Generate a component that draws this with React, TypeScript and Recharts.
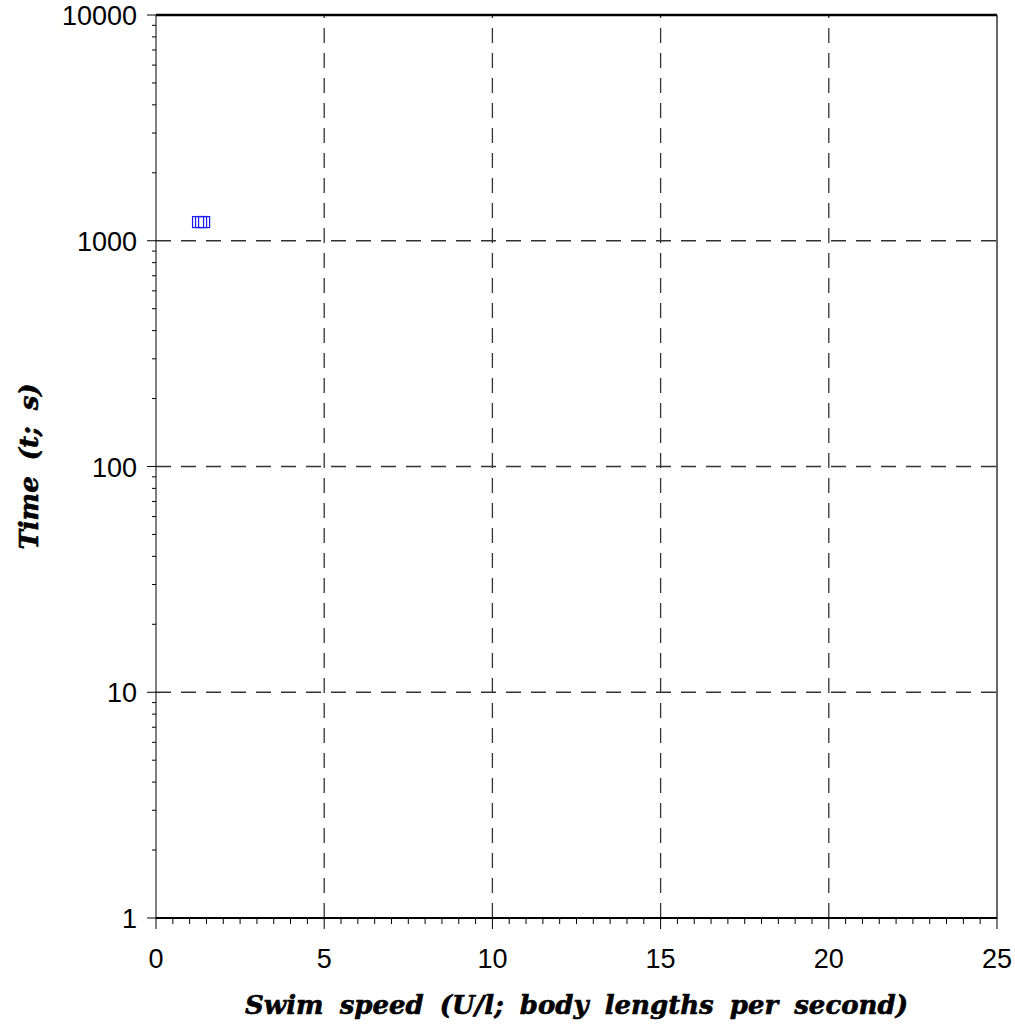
import { ScatterChart, Scatter, XAxis, YAxis, ReferenceLine } from 'recharts'

// blue open squares, overlapping near U/l ~ 1.3
const speeds = [1.25, 1.34, 1.43]
const times = [1210, 1210, 1210]

const xTicks = [
  0, 0.5, 1, 1.5, 2, 2.5, 3, 3.5, 4, 4.5, 5, 5.5, 6, 6.5, 7, 7.5, 8, 8.5, 9, 9.5,
  10, 10.5, 11, 11.5, 12, 12.5, 13, 13.5, 14, 14.5, 15, 15.5, 16, 16.5, 17, 17.5,
  18, 18.5, 19, 19.5, 20, 20.5, 21, 21.5, 22, 22.5, 23, 23.5, 24, 24.5, 25,
]
const xLabels = [0, 5, 10, 15, 20, 25]
const yTicks = [
  1, 2, 3, 4, 5, 6, 7, 8, 9,
  10, 20, 30, 40, 50, 60, 70, 80, 90,
  100, 200, 300, 400, 500, 600, 700, 800, 900,
  1000, 2000, 3000, 4000, 5000, 6000, 7000, 8000, 9000,
  10000,
]
const yLabels = [1, 10, 100, 1000, 10000]
const xGrid = [5, 10, 15, 20]
const yGrid = [10, 100, 1000]

const data = speeds.map((s, i) => ({ speed: s, time: times[i] }))

const tickFont = '"Liberation Sans", Arial, sans-serif'
const titleFont = '"DejaVu Serif", "Liberation Serif", serif'
const gridProps = { stroke: '#333', strokeWidth: 1.3, strokeDasharray: '15 10' }
const titleProps = {
  fontSize: 26,
  fontWeight: 'bold',
  fontStyle: 'italic',
  fontFamily: titleFont,
  fill: '#000',
  stroke: '#000',
  strokeWidth: 0.6,
  style: { wordSpacing: 7 },
}

function XTick({ x, y, payload }: any) {
  const major = xLabels.includes(payload.value)
  return (
    <g>
      <line x1={x} y1={y} x2={x} y2={y + (major ? 11 : 6)} stroke="#000" strokeWidth={1} />
      {major && (
        <text x={x} y={y + 50} textAnchor="middle" fontSize={27} fontFamily={tickFont} fill="#000">
          {payload.value}
        </text>
      )}
    </g>
  )
}

function YTick({ x, y, payload }: any) {
  const major = yLabels.includes(payload.value)
  return (
    <g>
      <line x1={x} y1={y} x2={x - (major ? 9 : 4)} y2={y} stroke="#000" strokeWidth={1} />
      {major && (
        <text x={x - 19} y={y + 10} textAnchor="end" fontSize={27} fontFamily={tickFont} fill="#000">
          {payload.value}
        </text>
      )}
    </g>
  )
}

function Square({ cx, cy }: any) {
  return <rect x={cx - 5.5} y={cy - 5.5} width={11} height={11} fill="none" stroke="#1a1aff" strokeWidth={1.2} />
}

export default function App() {
  return (
    <div style={{ position: 'absolute', left: 0, top: 0, background: '#fff' }}>
      <ScatterChart width={1015} height={1027} margin={{ top: 15, right: 18, bottom: 0, left: 0 }}>
        <XAxis
          type="number"
          dataKey="speed"
          domain={[0, 25]}
          ticks={xTicks}
          interval={0}
          height={109}
          tickSize={0}
          tickMargin={0}
          tickLine={false}
          tick={<XTick />}
          axisLine={{ stroke: '#000', strokeWidth: 2 }}
          label={{
            content: ({ viewBox }: any) => (
              <text x={viewBox.x + viewBox.width / 2} y={viewBox.y + 96} textAnchor="middle" {...titleProps}>
                Swim speed (U/l; body lengths per second)
              </text>
            ),
          }}
        />
        <YAxis
          type="number"
          dataKey="time"
          scale="log"
          domain={[1, 10000]}
          allowDataOverflow
          ticks={yTicks}
          interval={0}
          width={156}
          tickSize={0}
          tickMargin={0}
          tickLine={false}
          tick={<YTick />}
          axisLine={{ stroke: '#000', strokeWidth: 1 }}
          label={{
            content: ({ viewBox }: any) => {
              const cx = 38
              const cy = viewBox.y + viewBox.height / 2
              return (
                <text x={cx} y={cy} transform={`rotate(-90 ${cx} ${cy})`} textAnchor="middle" {...titleProps}>
                  Time (t; s)
                </text>
              )
            },
          }}
        />
        {xGrid.map((v) => (
          <ReferenceLine key={'gx' + v} x={v} {...gridProps} />
        ))}
        {yGrid.map((v) => (
          <ReferenceLine key={'gy' + v} y={v} {...gridProps} />
        ))}
        <ReferenceLine y={10000} stroke="#000" strokeWidth={2.5} />
        <ReferenceLine x={25} stroke="#000" strokeWidth={1.2} />
        <Scatter data={data} shape={<Square />} isAnimationActive={false} />
      </ScatterChart>
    </div>
  )
}
